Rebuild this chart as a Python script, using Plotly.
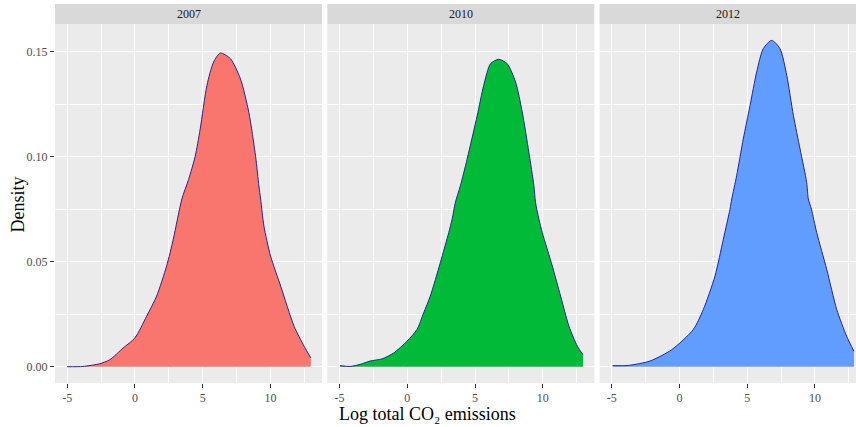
import plotly.graph_objects as go

years = ["2007", "2010", "2012"]

x2007 = [-5.0, -3.84, -2.6, -1.86, -0.87, 0.0, 0.86, 1.6, 2.34, 2.83, 3.46, 3.95, 4.44, 4.81,
         5.31, 5.8, 6.3, 7.04, 7.78, 8.4, 8.9, 9.14, 9.27, 9.51, 10.0, 10.75, 11.74, 12.48, 12.97]
y2007 = [0.0, 0.0001, 0.0014, 0.0033, 0.0089, 0.0137, 0.024, 0.0336, 0.048, 0.0607, 0.0798, 0.089,
         0.100, 0.113, 0.1339, 0.145, 0.1493, 0.1466, 0.137, 0.121, 0.100, 0.086, 0.0798, 0.067,
         0.0527, 0.0383, 0.0192, 0.0097, 0.0042]

x2010 = [-4.95, -4.21, -3.47, -2.73, -1.87, -1.0, -0.02, 0.72, 1.21, 1.70, 2.44, 3.06, 3.31, 3.55,
         3.92, 4.42, 5.16, 5.64, 6.14, 6.75, 7.37, 7.99, 8.48, 8.97, 9.34, 9.46, 9.71, 9.96, 10.70,
         11.31, 11.93, 12.55, 12.96]
y2010 = [0.0005, 0.0001, 0.0011, 0.0027, 0.0037, 0.0065, 0.0121, 0.0177, 0.0256, 0.0336, 0.0495,
         0.0638, 0.0702, 0.0782, 0.0861, 0.0989, 0.1195, 0.1339, 0.1442, 0.1463, 0.1442, 0.1355,
         0.1212, 0.102, 0.0861, 0.0782, 0.0702, 0.0638, 0.0479, 0.0336, 0.0192, 0.0097, 0.0057]

x2012 = [-4.93, -3.77, -2.17, -0.57, 1.02, 1.76, 2.62, 3.24, 3.73, 3.86, 4.22, 4.71, 5.21, 5.70,
         6.19, 6.81, 7.42, 7.92, 8.41, 8.90, 9.39, 9.51, 9.74, 10.13, 10.87, 11.61, 12.34, 12.88]
y2012 = [0.0005, 0.0006, 0.0027, 0.0081, 0.0177, 0.0272, 0.0431, 0.0607, 0.075, 0.0798, 0.0909,
         0.1084, 0.1243, 0.1403, 0.1514, 0.1553, 0.1514, 0.1386, 0.1195, 0.1036, 0.0877, 0.0798,
         0.075, 0.0638, 0.0463, 0.0272, 0.0145, 0.0073]

xs = [x2007, x2010, x2012]
ys = [y2007, y2010, y2012]
fills = ["#F8766D", "#00BA38", "#619CFF"]

xticks = [-5, 0, 5, 10]
yticks = [0.0, 0.05, 0.10, 0.15]
yticklabels = ["0.00", "0.05", "0.10", "0.15"]

W, H = 856, 427
L, R, T, B = 55, 0, 24, 44
pw = W - L - R
ph = H - T - B
panels_px = [(55, 322), (327.3, 594.3), (599.6, 856)]
domains = [[(a - L) / pw, (b - L) / pw] for a, b in panels_px]
xranges = [[-5.895, 13.795], [-5.895, 13.795], [-5.895, 13.03]]
yrange = [-0.00777, 0.1631]

FONT = "Liberation Serif"

fig = go.Figure()
for i in range(3):
    sfx = "" if i == 0 else str(i + 1)
    fig.add_trace(go.Scatter(
        x=xs[i], y=ys[i], mode="lines", fill="tozeroy", fillcolor=fills[i],
        line=dict(color="#25258A", width=1, shape="spline", smoothing=0.7),
        xaxis="x" + sfx, yaxis="y" + sfx, showlegend=False, hoverinfo="skip"))

layout = dict(
    width=W, height=H,
    margin=dict(l=L, r=R, t=T, b=B, pad=0),
    paper_bgcolor="white", plot_bgcolor="#EBEBEB",
    font=dict(family=FONT, size=12, color="#4D4D4D"),
    showlegend=False,
)
shapes = []
annotations = []
for i in range(3):
    sfx = "" if i == 0 else str(i + 1)
    layout["xaxis" + sfx] = dict(
        domain=domains[i], range=xranges[i], anchor="y" + sfx,
        tickmode="array", tickvals=xticks, ticktext=[str(v) for v in xticks],
        showgrid=True, gridcolor="white", gridwidth=1.3, zeroline=False, showline=False,
        ticks="outside", ticklen=4, tickcolor="#333333", tickwidth=1,
        tickfont=dict(family=FONT, size=12, color="#4D4D4D"),
        minor=dict(tickmode="array", tickvals=[-2.5, 2.5, 7.5, 12.5], showgrid=True,
                   gridcolor="white", gridwidth=0.6, ticks=""),
    )
    layout["yaxis" + sfx] = dict(
        domain=[0, 1], range=yrange, anchor="x" + sfx,
        tickmode="array", tickvals=yticks, ticktext=yticklabels,
        showticklabels=(i == 0),
        showgrid=True, gridcolor="white", gridwidth=1.3, zeroline=False, showline=False,
        ticks="outside" if i == 0 else "", ticklen=4, tickcolor="#333333", tickwidth=1,
        tickfont=dict(family=FONT, size=12, color="#4D4D4D"),
        minor=dict(tickmode="array", tickvals=[0.025, 0.075, 0.125], showgrid=True,
                   gridcolor="white", gridwidth=0.6, ticks=""),
    )
    shapes.append(dict(type="rect", xref="paper", yref="paper",
                       x0=domains[i][0], x1=domains[i][1], y0=1, y1=1 + 20 / ph,
                       fillcolor="#D9D9D9", line=dict(width=0), layer="below"))
    annotations.append(dict(text=years[i], xref="paper", yref="paper",
                            x=(domains[i][0] + min(domains[i][1], (panels_px[i][0] + 267 - L) / pw)) / 2,
                            y=1 + 10 / ph, xanchor="center", yanchor="middle", showarrow=False,
                            font=dict(family=FONT, size=12, color="#1A1A1A")))

annotations.append(dict(text="Density", xref="paper", yref="paper",
                        x=(17.5 - L) / pw, y=(H - B - 205) / ph, textangle=-90,
                        xanchor="center", yanchor="middle", showarrow=False,
                        font=dict(family=FONT, size=18, color="black")))
annotations.append(dict(text="Log total CO\u2082 emissions", xref="paper", yref="paper",
                        x=(427 - L) / pw, y=(H - B - 414) / ph,
                        xanchor="center", yanchor="middle", showarrow=False,
                        font=dict(family=FONT, size=18, color="black")))
layout["shapes"] = shapes
layout["annotations"] = annotations
fig.update_layout(**layout)
fig.write_html("out.html", config={"displayModeBar": False},
               post_script="document.body.style.margin='0';document.body.style.overflow='hidden';")
